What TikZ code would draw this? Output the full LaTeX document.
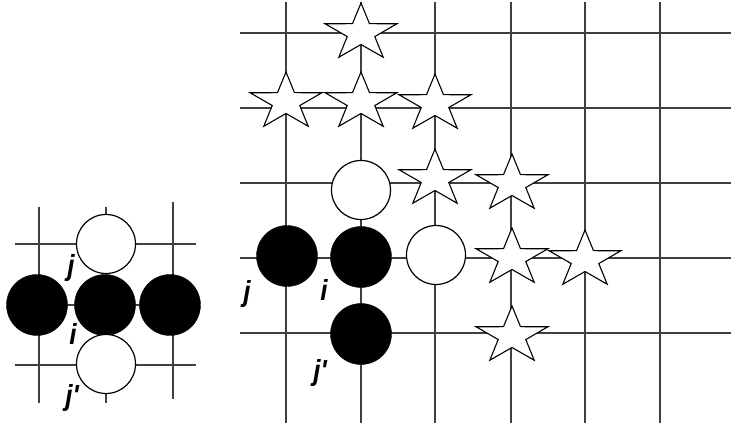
\documentclass[tikz,border=0pt]{standalone}
\usepackage{fontspec}
\setmainfont{Liberation Sans}
\newcommand\gostar[2]{\draw[starpath, shift={(#1,#2)}, xscale=1.26] (270:30) -- (306:11.5) -- (342:30) -- (18:11.5) -- (54:30) -- (90:11.5) -- (126:30) -- (162:11.5) -- (198:30) -- (234:11.5) -- cycle;}
\begin{document}
\begin{tikzpicture}[x=1pt,y=-1pt,
  grid/.style={draw=black!75, line width=1.3pt},
  wstone/.style={circle, draw=black, line width=1.2pt, fill=white, minimum size=59pt, inner sep=0pt},
  bstone/.style={circle, draw=black, fill=black, minimum size=61pt, inner sep=0pt},
  lbl/.style={font=\fontsize{29}{29}\selectfont\bfseries\itshape, inner sep=0pt, xscale=0.9, transform shape},
  starpath/.style={draw=black, line width=1.1pt, fill=white, line join=miter}]
\useasboundingbox (0,0) rectangle (731,427);
% left board grid
\foreach \yy in {244,305,365} \draw[grid] (15,\yy) -- (196,\yy);
\draw[grid] (39,207) -- (39,403);
\draw[grid] (106,207) -- (106,403);
\draw[grid] (173,202) -- (173,399);
% left stones
\node[wstone] (Lw1) at (106,244) {};
\node[bstone] (Lb1) at (37,305) {};
\node[bstone] (Lb2) at (105,305) {};
\node[bstone] (Lb3) at (170,305) {};
\node[wstone] (Lw2) at (106,364) {};
\node[lbl] (Lj) at (71,268) {j};
\node[lbl] (Li) at (73,334) {i};
\node[lbl] (Ljp) at (72,398) {j\textquotesingle};
% right board grid
\foreach \xx in {286,361,435,511,585,660} \draw[grid] (\xx,2) -- (\xx,423);
\foreach \yy in {33,108,183,258,333} \draw[grid] (240,\yy) -- (731,\yy);
% stars
\gostar{361}{33}
\gostar{286}{102}
\gostar{361}{102}
\gostar{435}{104}
\gostar{435}{179}
\gostar{512}{184}
\gostar{512}{258}
\gostar{585}{260}
\gostar{512}{336}
% right stones
\node[wstone] (Rw1) at (361,190) {};
\node[bstone] (Rb1) at (287,256) {};
\node[bstone] (Rb2) at (361,257) {};
\node[wstone] (Rw2) at (436,255) {};
\node[bstone] (Rb3) at (361,334) {};
\node[lbl] (Rj) at (247,294) {j};
\node[lbl] (Ri) at (324,290) {i};
\node[lbl] (Rjp) at (320,373) {j\textquotesingle};
\end{tikzpicture}
\end{document}
